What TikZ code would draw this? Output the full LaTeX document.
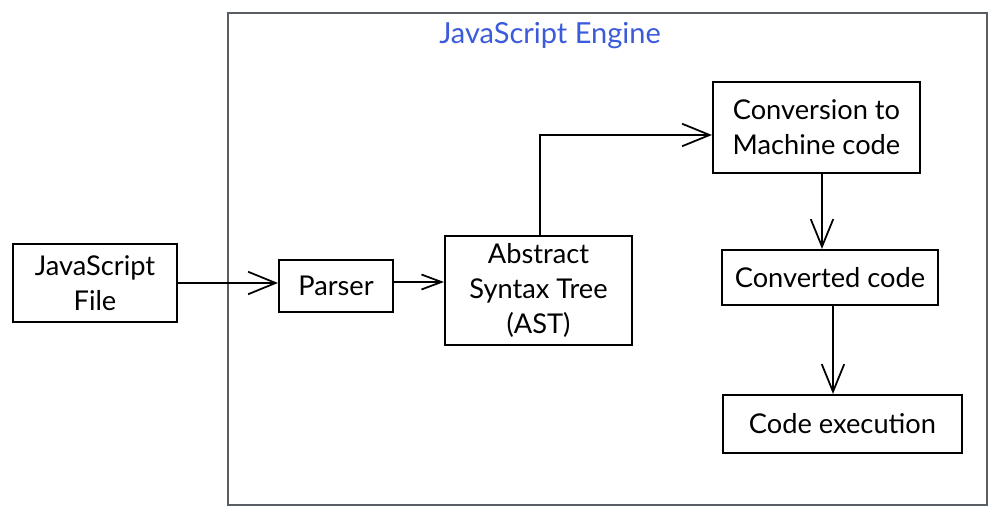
\documentclass[tikz,border=0pt]{standalone}
\usepackage{fontspec}
\setmainfont{Lato}
\usetikzlibrary{arrows.meta, positioning}
\definecolor{engineblue}{RGB}{59,91,219}
\definecolor{framegrey}{RGB}{88,94,100}

\begin{document}
\begin{tikzpicture}[>={Straight Barb[length=5.5mm,width=4.5mm,line width=1pt]},
  blk/.style={draw, line width=1.2pt, align=center, inner sep=0pt,
    font=\fontsize{15.5}{20}\selectfont},
  flow/.style={->, line width=1.2pt}]
\useasboundingbox (0,0) rectangle (20,10.36);
% engine frame
\node[draw=framegrey, line width=1.3pt, minimum width=15.18cm, minimum height=9.84cm,
  inner sep=0pt] (engine) at (12.15,5.18) {};
\node[text=engineblue, font=\fontsize{16.5}{20}\selectfont] (title) at (11.0,9.64) {JavaScript Engine};

\node[blk, minimum width=3.28cm, minimum height=1.56cm] (jsfile) at (1.9,4.70) {JavaScript\\File};
\node[blk, minimum width=2.28cm, minimum height=1.04cm] (parser) at (6.72,4.64) {Parser};
\node[blk, minimum width=3.74cm, minimum height=2.18cm] (ast) at (10.77,4.55) {Abstract\\Syntax Tree\\(AST)};
\node[blk, minimum width=4.14cm, minimum height=1.82cm] (conv) at (16.33,7.81) {Conversion to\\Machine code};
\node[blk, minimum width=4.32cm, minimum height=1.10cm] (conved) at (16.60,4.81) {Converted code};
\node[blk, minimum width=4.78cm, minimum height=1.16cm] (exec) at (16.85,1.88) {Code execution};

\draw[flow] (jsfile.east) -- (jsfile.east -| parser.west);
\draw[flow, >={Straight Barb[length=4mm,width=3mm,line width=1pt]}]
  ([yshift=0.8mm]parser.east) -- ([yshift=0.8mm]parser.east -| ast.west);
\draw[flow] ([xshift=0.3mm]ast.north) |- ([yshift=-1.5mm]conv.west);
\draw[flow] ([xshift=1.1mm]conv.south) -- ([xshift=1.1mm]conv.south |- conved.north);
\draw[flow] ([xshift=0.6mm]conved.south) -- ([xshift=0.6mm]conved.south |- exec.north);
\end{tikzpicture}
\end{document}
